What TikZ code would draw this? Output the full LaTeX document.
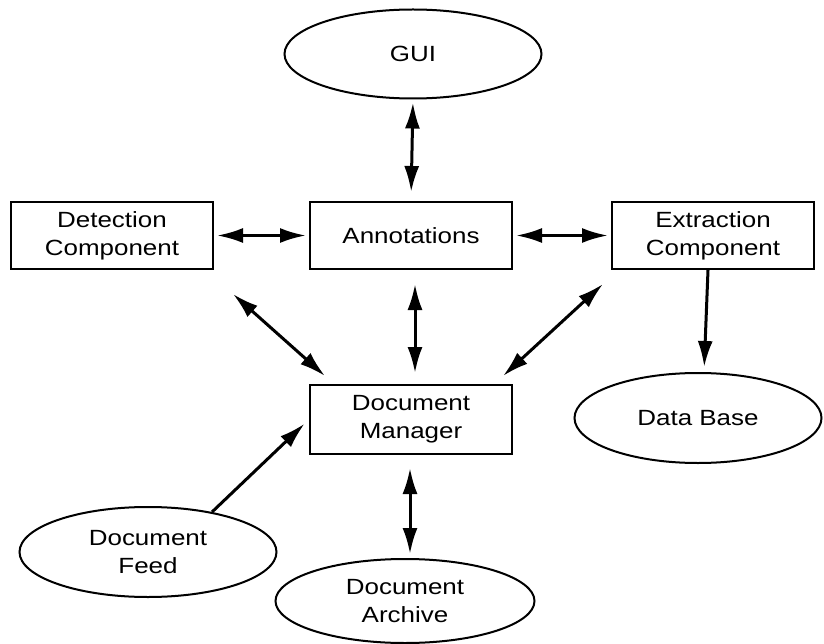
\documentclass[tikz,border=0pt]{standalone}
\usepackage{fontspec}
\newfontfamily\diafont[FakeStretch=1.18]{Liberation Sans}
\usetikzlibrary{positioning,shapes.geometric,arrows.meta}
\tikzset{
  blk/.style ={rectangle, draw=black, line width=2pt, fill=white, align=center,
               font=\diafont\fontsize{22}{28}\selectfont,
               minimum width=202pt, minimum height=67pt, inner sep=2pt},
  ell/.style ={ellipse, draw=black, line width=2pt, fill=white, align=center,
               font=\diafont\fontsize{22}{28}\selectfont, inner sep=1pt},
  fl/.style  ={-{Latex[length=26pt,width=15pt]}, line width=3pt},
  fld/.style ={{Latex[length=26pt,width=15pt]}-{Latex[length=26pt,width=15pt]}, line width=3pt}
}
\begin{document}
\begin{tikzpicture}[x=1pt,y=1pt]
  \useasboundingbox (0,0) rectangle (824,-644);
  \node[blk] (ann) at (411,-235.5) {Annotations};
  \node[blk,left=95pt of ann] (det) {Detection\\Component};
  \node[blk,right=98pt of ann] (ext) {Extraction\\Component};
  \node[blk,below=114pt of ann,minimum height=69pt] (dm) {Document\\Manager};
  \node[ell,minimum width=257pt,minimum height=89pt] (gui) at (413,-54) {GUI};
  \node[ell,minimum width=247pt,minimum height=90pt] (db) at (698,-418) {Data Base};
  \node[ell,minimum width=257pt,minimum height=90pt] (feed) at (148,-552) {Document\\Feed};
  \node[ell,minimum width=259pt,minimum height=84pt] (arch) at (405,-601) {Document\\Archive};
  \draw[fld,shorten <=3pt,shorten >=9pt] (gui.south) -- (ann.north);
  \draw[fld,shorten <=3pt,shorten >=3pt] (det) -- (ann);
  \draw[fld,shorten <=3pt,shorten >=3pt] (ann) -- (ext);
  \draw[fld] ([xshift=19pt,yshift=-24pt]det.south east) -- ([xshift=16pt,yshift=8pt]dm.north west);
  \draw[fld,shorten <=14pt,shorten >=11pt] ([xshift=4pt]ann.south) -- ([xshift=4pt]dm.north);
  \draw[fld] ([xshift=-8pt,yshift=-14pt]ext.south west) -- ([xshift=-10pt,yshift=8pt]dm.north east);
  \draw[fl,shorten >=5pt] ([xshift=-5pt]ext.south) -- ([xshift=6pt]db.north);
  \draw[fl,shorten >=6pt] (feed.32) -- (dm.west);
  \draw[fld,shorten <=13pt,shorten >=4pt] ([xshift=-1pt]dm.south) -- ([xshift=5pt]arch.north);
\end{tikzpicture}
\end{document}
